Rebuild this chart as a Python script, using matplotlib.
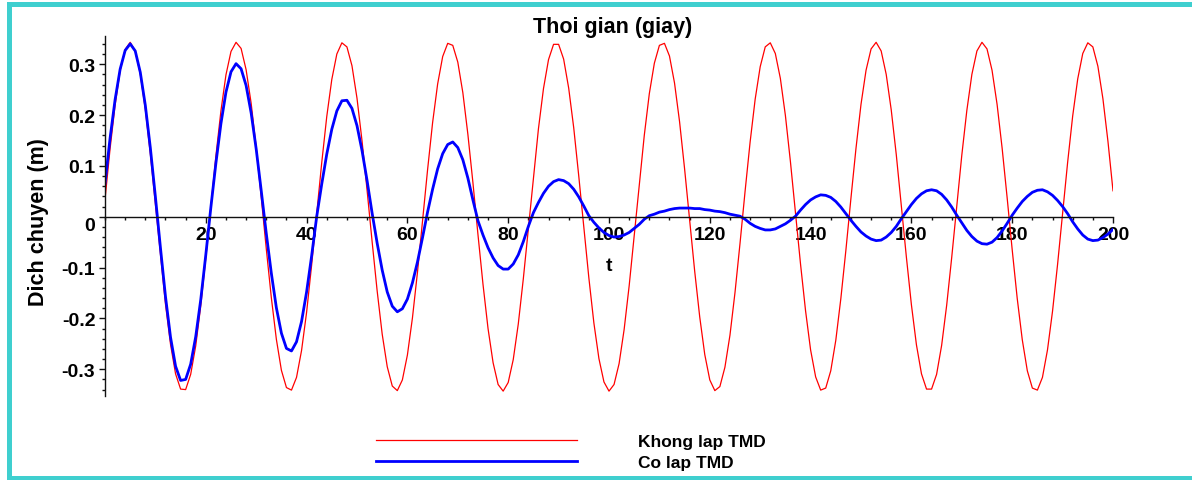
import numpy as np
import matplotlib
matplotlib.use('Agg')
import matplotlib.pyplot as plt
from matplotlib.ticker import MultipleLocator
from matplotlib.patches import Rectangle

# thoi gian (s), lay mau moi giay
t = np.arange(0, 201, 1)

# khong lap TMD (m), doc tu hinh
x_khong_tmd = np.array([
    0.034, 0.133, 0.219, 0.287, 0.329, 0.343, 0.326, 0.281, 0.211, 0.123,
    0.024, -0.077, -0.172, -0.251, -0.309, -0.339, -0.340, -0.310, -0.254, -0.175,
    -0.081, 0.020, 0.119, 0.208, 0.279, 0.325, 0.343, 0.331, 0.289, 0.223,
    0.136, 0.038, -0.063, -0.159, -0.241, -0.302, -0.336, -0.341, -0.316, -0.263,
    -0.188, -0.095, 0.006, 0.106, 0.197, 0.270, 0.320, 0.342, 0.334, 0.297,
    0.233, 0.149, 0.052, -0.049, -0.146, -0.231, -0.295, -0.333, -0.342, -0.321,
    -0.272, -0.199, -0.109, -0.009, 0.092, 0.185, 0.261, 0.315, 0.341, 0.337,
    0.304, 0.244, 0.162, 0.067, -0.035, -0.133, -0.220, -0.287, -0.330, -0.343,
    -0.326, -0.281, -0.211, -0.122, -0.023, 0.078, 0.173, 0.252, 0.309, 0.339,
    0.339, 0.310, 0.253, 0.175, 0.080, -0.021, -0.120, -0.209, -0.279, -0.325,
    -0.343, -0.330, -0.289, -0.222, -0.136, -0.037, 0.064, 0.160, 0.242, 0.302,
    0.337, 0.341, 0.316, 0.263, 0.187, 0.094, -0.006, -0.107, -0.197, -0.271,
    -0.321, -0.342, -0.334, -0.296, -0.233, -0.149, -0.052, 0.050, 0.147, 0.231,
    0.295, 0.334, 0.342, 0.321, 0.272, 0.199, 0.108, 0.008, -0.093, -0.185,
    -0.262, -0.315, -0.341, -0.337, -0.303, -0.243, -0.161, -0.066, 0.036, 0.134,
    0.221, 0.288, 0.330, 0.343, 0.326, 0.280, 0.210, 0.122, 0.022, -0.079,
    -0.173, -0.252, -0.309, -0.339, -0.339, -0.310, -0.253, -0.174, -0.080, 0.021,
    0.121, 0.209, 0.280, 0.326, 0.343, 0.330, 0.288, 0.221, 0.135, 0.037,
    -0.065, -0.161, -0.242, -0.303, -0.337, -0.341, -0.316, -0.262, -0.186, -0.094,
    0.007, 0.107, 0.198, 0.271, 0.321, 0.342, 0.334, 0.296, 0.232, 0.148,
    0.051,
])

# co lap TMD (m)
x_co_tmd = np.array([
    0.065, 0.154, 0.230, 0.290, 0.327, 0.340, 0.326, 0.284, 0.219, 0.135,
    0.039, -0.061, -0.157, -0.237, -0.294, -0.322, -0.320, -0.290, -0.236, -0.163,
    -0.075, 0.018, 0.105, 0.183, 0.245, 0.285, 0.301, 0.291, 0.258, 0.204,
    0.133, 0.051, -0.033, -0.111, -0.179, -0.229, -0.259, -0.264, -0.246, -0.206,
    -0.148, -0.077, 0.000, 0.064, 0.123, 0.172, 0.208, 0.228, 0.229, 0.213,
    0.179, 0.130, 0.071, 0.007, -0.052, -0.105, -0.148, -0.176, -0.187, -0.181,
    -0.162, -0.130, -0.089, -0.041, 0.009, 0.054, 0.094, 0.124, 0.142, 0.147,
    0.136, 0.112, 0.076, 0.033, -0.008, -0.036, -0.061, -0.081, -0.096, -0.103,
    -0.103, -0.093, -0.075, -0.049, -0.019, 0.008, 0.028, 0.046, 0.060, 0.069,
    0.073, 0.071, 0.065, 0.054, 0.039, 0.021, 0.002, -0.011, -0.022, -0.031,
    -0.037, -0.040, -0.039, -0.036, -0.031, -0.023, -0.015, -0.005, 0.002, 0.005,
    0.009, 0.011, 0.014, 0.016, 0.017, 0.017, 0.017, 0.016, 0.016, 0.014,
    0.013, 0.011, 0.010, 0.008, 0.005, 0.003, 0.001, -0.005, -0.013, -0.019,
    -0.023, -0.026, -0.026, -0.024, -0.019, -0.014, -0.007, 0.001, 0.013, 0.024,
    0.033, 0.039, 0.043, 0.042, 0.038, 0.030, 0.019, 0.006, -0.007, -0.019,
    -0.030, -0.038, -0.044, -0.047, -0.046, -0.040, -0.031, -0.019, -0.004, 0.010,
    0.024, 0.036, 0.045, 0.051, 0.053, 0.051, 0.044, 0.033, 0.019, 0.003,
    -0.012, -0.027, -0.039, -0.048, -0.053, -0.054, -0.050, -0.041, -0.028, -0.013,
    0.003, 0.017, 0.030, 0.040, 0.048, 0.052, 0.053, 0.049, 0.042, 0.032,
    0.020, 0.006, -0.010, -0.024, -0.036, -0.044, -0.047, -0.046, -0.041, -0.034,
    -0.025,
])

xticks = [20, 40, 60, 80, 100, 120, 140, 160, 180, 200]
xtick_labels = ['20', '40', '60', '80', '100', '120', '140', '160', '180', '200']
yticks = [-0.3, -0.2, -0.1, 0.0, 0.1, 0.2, 0.3]
ytick_labels = ['-0.3', '-0.2', '-0.1', '0', '0.1', '0.2', '0.3']
labels = ['Khong lap TMD', 'Co lap TMD']

font = ['Liberation Sans', 'DejaVu Sans']

W, H = 1192, 481
fig = plt.figure(figsize=(W / 100, H / 100), dpi=100)
ax = fig.add_axes([105 / W, 1 - 396.7 / H, 1008 / W, 360 / H])

l1, = ax.plot(t, x_khong_tmd, color='#ff0000', lw=0.9)
l2, = ax.plot(t, x_co_tmd, color='#0000ff', lw=2.0)

ax.set_xlim(0, 200)
ax.set_ylim(-0.352, 0.356)

# truc kieu Maple: truc x nam o y = 0
ax.spines['top'].set_visible(False)
ax.spines['right'].set_visible(False)
ax.spines['bottom'].set_position(('data', 0))
for s in ('left', 'bottom'):
    ax.spines[s].set_linewidth(1.0)
    ax.spines[s].set_color('#111111')

ax.set_xticks(xticks)
ax.set_xticklabels(xtick_labels)
ax.set_yticks(yticks)
ax.set_yticklabels(ytick_labels)
ax.xaxis.set_minor_locator(MultipleLocator(4))
ax.yaxis.set_minor_locator(MultipleLocator(0.02))
ax.tick_params(which='major', direction='out', length=4.5, width=1.0, color='#111111', pad=2.5)
ax.tick_params(which='minor', direction='out', length=2.5, width=1.0, color='#111111')
for lab in ax.get_xticklabels() + ax.get_yticklabels():
    lab.set_fontfamily(font)
    lab.set_fontweight('bold')
    lab.set_fontsize(14)
ax.get_yticklabels()[3].set_va('top')

ax.set_xlabel('t', fontfamily=font, fontweight='bold', fontsize=14, labelpad=10)

fig.text(613 / W, 1 - 27 / H, 'Thoi gian (giay)', ha='center', va='center',
         fontfamily=font, fontweight='bold', fontsize=15.5)
fig.text(39 / W, 1 - 222 / H, 'Dich chuyen (m)', ha='center', va='center', rotation=90,
         fontfamily=font, fontweight='bold', fontsize=15.5)

leg = fig.legend([l1, l2], labels, loc='center left', bbox_to_anchor=(376 / W, 1 - 453 / H),
                 frameon=False, borderpad=0, borderaxespad=0, handlelength=11.6,
                 handletextpad=3.5, labelspacing=0.3,
                 prop={'family': font, 'weight': 'bold', 'size': 12.5})

# khung mau xanh ngoc
teal = '#3fcfcf'
for x0, y0, w, h in [(7, 3, W - 7, 5), (7, 3, 5, H - 3), (7, H - 4, W - 7, 4)]:
    fig.add_artist(Rectangle((x0 / W, 1 - (y0 + h) / H), w / W, h / H,
                             transform=fig.transFigure, color=teal, lw=0))

fig.savefig('out.png', dpi=100)
